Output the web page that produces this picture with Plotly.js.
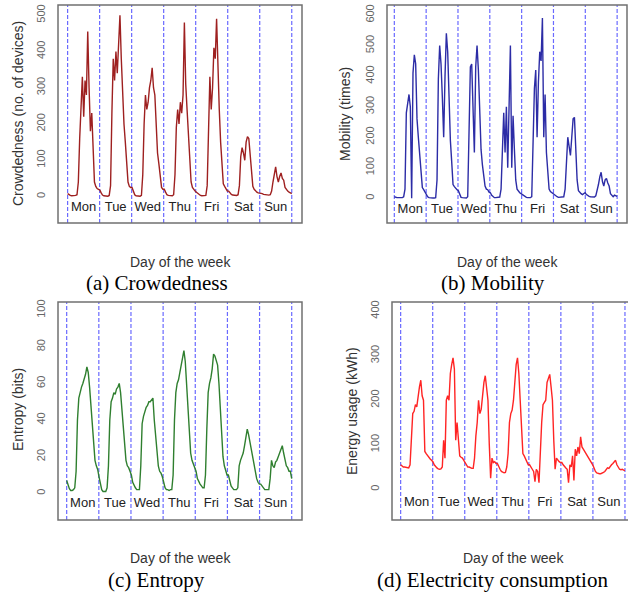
<!DOCTYPE html>
<html>
<head>
<meta charset="utf-8">
<script src="https://cdn.plot.ly/plotly-3.0.1.min.js"></script>
<style>html,body{margin:0;padding:0;background:#fff}#chart{width:628px;height:595px}</style>
</head>
<body>
<div id="chart"></div>
<script>
// Hourly values (24 per day, Mon..Sun)
const days = ["Mon", "Tue", "Wed", "Thu", "Fri", "Sat", "Sun"];

const crowdedness = [
  8,5,3,2,2,2,3,5,40,160,260,330,220,320,280,455,300,180,230,120,40,28,22,20,
  18,10,4,2,1,1,1,3,30,230,380,320,400,340,420,500,380,280,200,150,90,40,28,25,
  25,15,5,2,1,1,1,3,60,200,280,240,260,300,320,355,300,280,180,120,90,50,25,20,
  20,12,5,3,2,2,2,5,60,190,240,200,260,230,280,480,310,240,180,100,40,25,18,15,
  12,8,4,3,2,2,2,3,30,160,330,240,300,410,380,490,350,240,150,90,35,28,22,15,
  15,10,6,4,3,3,3,5,30,110,135,120,100,150,165,160,110,50,28,20,15,12,10,10,
  10,8,6,5,4,4,4,5,15,40,60,82,55,40,55,65,50,45,25,18,15,12,10,8
];

const mobility = [
  5,3,2,2,2,2,2,5,30,280,320,340,300,0,410,470,440,260,200,150,80,35,28,20,
  15,5,2,1,1,1,1,2,60,390,500,440,330,200,400,540,480,300,190,120,45,38,32,28,
  25,10,3,2,1,1,1,5,240,430,440,300,150,430,500,420,300,160,110,70,40,30,28,20,
  18,10,4,2,2,2,2,4,30,200,280,150,300,100,360,500,100,270,160,60,30,22,18,15,
  12,8,4,3,2,2,2,5,200,360,420,200,380,480,450,590,200,340,150,80,30,22,18,15,
  12,8,5,3,3,3,3,5,30,140,200,170,140,200,260,265,180,60,25,18,15,12,15,18,
  12,8,6,5,4,4,4,8,25,45,70,85,55,40,60,65,50,40,15,10,5,10,8,6
];

const entropy = [
  7,4,2.5,1.5,1.5,2,3,12,40,52,56,58,60,62,65,69,66,58,48,35,24,18,15,13,
  9,5,2,1,1,1,3,15,40,50,52,55,54,57,58,60,55,45,35,24,18,15,14,12,
  10,6,4,3,2,2,2,15,38,42,45,47,48,50,50,51,52,40,30,22,15,12,11,9,
  5,3,2,2,1.5,2,2,10,40,55,60,62,66,70,74,78,72,58,45,32,22,18,16,15,
  12,8,6,5,4,3,3,10,35,55,60,63,68,76,75,72,70,60,45,30,20,15,12,10,
  10,7,4,3,2,2,2,3,15,18,20,22,26,30,35,32,28,24,20,15,11,8,6,5,
  5,4,3,2,2,2,2,8,18,15,14,17,18,20,22,25,26,22,18,15,14,12,12,8
];

const energy = [
  55,52,50,50,49,48,48,55,120,170,175,190,185,210,230,245,210,200,85,80,75,72,68,65,
  62,55,50,48,46,45,46,50,110,70,200,210,200,260,280,295,270,110,150,100,75,72,70,65,
  60,55,50,50,48,47,47,70,120,150,200,170,180,220,240,255,225,200,100,25,70,60,62,58,
  58,50,45,40,38,37,38,50,80,150,170,178,200,245,280,295,260,200,120,80,75,68,62,55,
  55,48,45,40,17,45,40,15,100,150,190,195,200,240,250,258,230,200,110,45,70,65,62,60,
  60,55,50,48,45,15,55,50,75,20,90,75,95,80,118,95,90,85,80,75,72,68,62,55,
  48,40,37,35,35,35,36,38,40,45,48,47,52,55,58,62,65,55,48,45,44,45,43,42
];

const W = 628, H = 595;
const px = (a, b) => [a / W, b / W];
const py = (top, bottom) => [1 - bottom / H, 1 - top / H];

const panels = [
  {key: "", series: crowdedness, color: "#9e2020", xr: [-0.30, 7.32], yr: [-73, 528], dx: px(58, 302), dy: py(5, 223),
   ytick: [0, 100, 200, 300, 400, 500], labelY: -30, ytitle: "Crowdedness (no. of devices)",
   ytX: 18, ytY: 114, xtX: 180, xtY: 262, cap: "(a) Crowdedness", capX: 157, capY: 283},
  {key: "2", series: mobility, color: "#2c2ca6", xr: [-0.23, 7.31], yr: [-81, 633], dx: px(387, 627), dy: py(5, 223),
   ytick: [0, 100, 200, 300, 400, 500, 600], labelY: -38, ytitle: "Mobility (times)",
   ytX: 345, ytY: 114, xtX: 507, xtY: 262, cap: "(b) Mobility", capX: 493, capY: 283},
  {key: "3", series: entropy, color: "#2f7f2f", xr: [-0.27, 7.32], yr: [-14.6, 104.5], dx: px(58, 302), dy: py(302, 520),
   ytick: [0, 20, 40, 60, 80, 100], labelY: -5.5, ytitle: "Entropy (bits)",
   ytX: 18, ytY: 410, xtX: 180, xtY: 558, cap: "(c) Entropy", capX: 156, capY: 580},
  {key: "4", series: energy, color: "#ff2424", xr: [-0.27, 7.095], yr: [-69, 420.6], dx: px(392, 628), dy: py(302, 520),
   ytick: [0, 100, 200, 300, 400], labelY: -31, ytitle: "Energy usage (kWh)",
   ytX: 352, ytY: 411, xtX: 513, xtY: 558, cap: "(d) Electricity consumption", capX: 492, capY: 580}
];

const traces = [];
const shapes = [];
const annotations = [];
const layout = {
  width: W, height: H,
  margin: {l: 0, r: 0, t: 0, b: 0},
  paper_bgcolor: "#fff", plot_bgcolor: "#fff",
  showlegend: false,
  font: {family: "Liberation Sans, Arial, sans-serif", color: "#333"}
};

panels.forEach(p => {
  const xa = "x" + p.key, ya = "y" + p.key;
  const n = p.series.length;
  const xs = p.series.map((_, i) => i * 7 / (n - 1));
  for (let d = 0; d <= 7; d++) {
    shapes.push({type: "line", xref: xa, yref: ya + " domain", x0: d, x1: d, y0: 0, y1: 1, layer: "below",
      line: {color: "#6a6aff", width: 1.2, dash: "4px,2px"}});
  }
  traces.push({type: "scatter", mode: "lines", x: xs, y: p.series, xaxis: xa, yaxis: ya,
    line: {color: p.color, width: 1.4}, hoverinfo: "skip"});
  traces.push({type: "scatter", mode: "text", x: days.map((_, i) => i + 0.5), y: days.map(() => p.labelY),
    text: days, textfont: {size: 13, color: "#222", family: "Liberation Sans, Arial, sans-serif"},
    xaxis: xa, yaxis: ya, hoverinfo: "skip"});
  layout["xaxis" + p.key] = {domain: p.dx, range: p.xr, anchor: ya, showgrid: false, zeroline: false,
    showticklabels: false, ticks: "", showline: false, fixedrange: true};
  layout["yaxis" + p.key] = {domain: p.dy, range: p.yr, anchor: xa, showgrid: false, zeroline: false,
    tickvals: p.ytick, ticktext: p.ytick.map(String), tickangle: -90, ticks: "", showline: false,
    ticklabelstandoff: 10, tickfont: {size: 11, color: "#666"}, fixedrange: true};
  shapes.push({type: "rect", xref: "paper", yref: "paper",
    x0: p.dx[0], x1: p.key === "4" ? 1.02 : p.dx[1], y0: p.dy[0], y1: p.dy[1],
    line: {color: "#707070", width: 1.5}});
  annotations.push({xref: "paper", yref: "paper", x: p.ytX / W, y: 1 - p.ytY / H, text: p.ytitle,
    textangle: -90, showarrow: false, xanchor: "center", yanchor: "middle",
    font: {size: 14, color: "#333"}});
  annotations.push({xref: "paper", yref: "paper", x: p.xtX / W, y: 1 - p.xtY / H, text: "Day of the week",
    showarrow: false, xanchor: "center", yanchor: "middle", font: {size: 14, color: "#333"}});
  annotations.push({xref: "paper", yref: "paper", x: p.capX / W, y: 1 - p.capY / H, text: p.cap,
    showarrow: false, xanchor: "center", yanchor: "middle",
    font: {size: 21, color: "#000", family: "Liberation Serif, Times New Roman, serif"}});
});

layout.shapes = shapes;
layout.annotations = annotations;

Plotly.newPlot("chart", traces, layout, {staticPlot: true, displayModeBar: false});
</script>
</body>
</html>
